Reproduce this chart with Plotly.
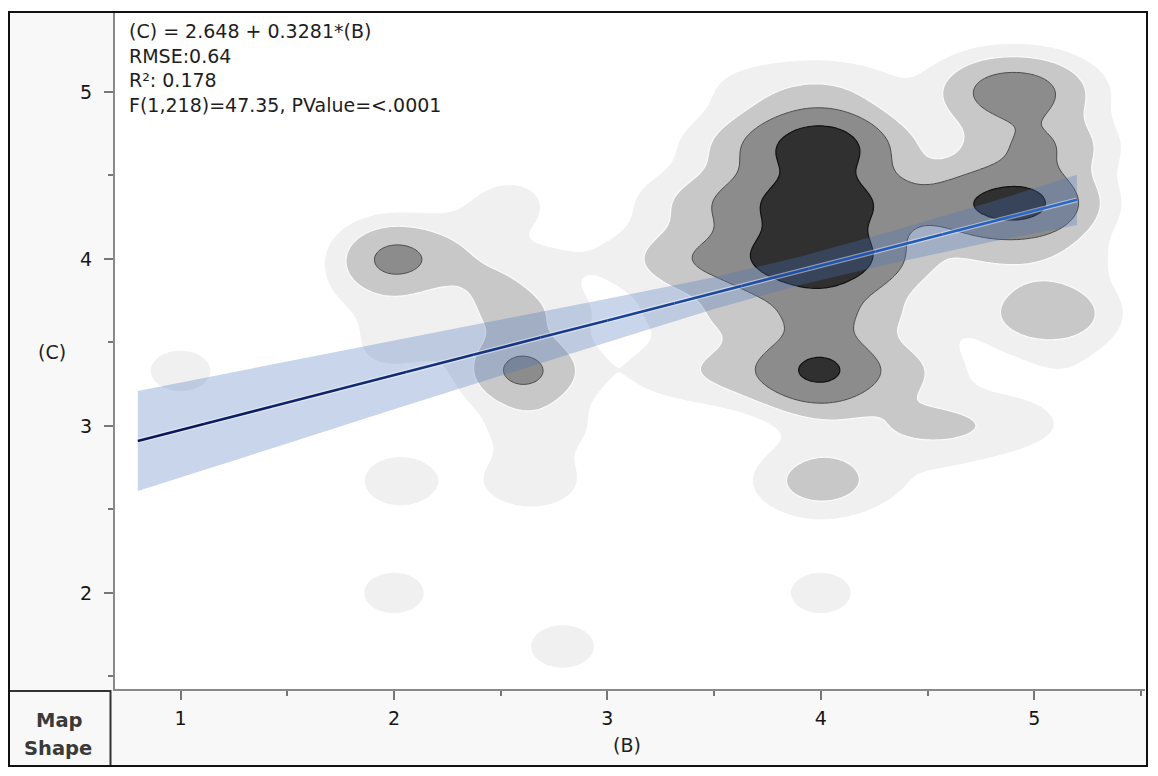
import numpy as np
import plotly.graph_objects as go

# ---------------- data ----------------
# weighted observations (B, C, weight) used for the density contours
obs_B = [
    # C = 5.0 row
    3.6, 3.8, 4.0, 4.2, 4.4, 4.6, 4.8, 5.0, 5.2,
    # C = 4.67
    3.4, 3.6, 3.8, 4.0, 4.2, 4.4, 4.6, 4.8, 5.0, 5.2,
    # C = 4.5
    3.8, 4.2,
    # C = 4.33
    3.2, 3.4, 3.6, 3.8, 4.0, 4.2, 4.4, 4.6, 4.8, 5.0, 5.2,
    # C = 4.17
    3.8, 4.2,
    # C = 4.0
    3.0, 3.2, 3.4, 3.6, 3.8, 4.0, 4.2, 4.4, 4.6, 4.8, 5.0, 5.2,
    # C = 3.67
    3.2, 3.4, 3.6, 3.8, 4.0, 4.2, 4.4, 4.6, 4.97, 5.17,
    # C = 3.33
    3.2, 3.4, 3.6, 3.8, 4.0, 4.2, 4.4, 4.6, 5.0, 5.2,
    # C = 3.0
    3.8, 4.0, 4.2, 4.4, 4.6, 4.8, 5.0, 5.2,
    # C = 2.67
    3.8, 4.0, 4.2, 4.4, 4.6,
    # C = 2.0
    4.0,
    # left cluster
    2.0, 2.25, 2.45, 2.6, 2.55,
    2.55, 2.35, 2.75, 2.8, 2.85, 2.8, 2.6, 2.55, 2.72, 2.0, 1.95, 2.2, 1.8,
    1.0, 2.03, 2.0, 2.79,
]
obs_C = [
    5.0, 5.0, 5.0, 5.0, 5.0, 5.0, 5.0, 5.0, 5.0,
    4.67, 4.67, 4.67, 4.67, 4.67, 4.67, 4.67, 4.67, 4.67, 4.67,
    4.5, 4.5,
    4.33, 4.33, 4.33, 4.33, 4.33, 4.33, 4.33, 4.33, 4.33, 4.33, 4.33,
    4.17, 4.17,
    4.0, 4.0, 4.0, 4.0, 4.0, 4.0, 4.0, 4.0, 4.0, 4.0, 4.0, 4.0,
    3.67, 3.67, 3.67, 3.67, 3.67, 3.67, 3.67, 3.67, 3.67, 3.67,
    3.33, 3.33, 3.33, 3.33, 3.33, 3.33, 3.33, 3.33, 3.33, 3.33,
    3.0, 3.0, 3.0, 3.0, 3.0, 3.0, 3.0, 3.0,
    2.67, 2.67, 2.67, 2.67, 2.67,
    2.0,
    4.0, 4.0, 3.87, 3.33, 3.67,
    4.33, 4.2, 4.0, 3.67, 3.33, 3.0, 3.0, 2.67, 2.67, 3.67, 3.45, 3.5, 3.8,
    3.33, 2.67, 2.0, 1.68,
]
obs_W = [
    0.55, 0.85, 1.2, 0.7, 0.2, 0.3, 4.6, 4.6, 0.6,
    0.3, 1.4, 4.5, 15.0, 3.5, 0.4, 0.5, 1.0, 4.2, 1.3,
    1.2, 1.0,
    0.35, 1.3, 3.5, 5.5, 15.0, 4.5, 3.0, 3.0, 9.0, 9.5, 1.0,
    1.8, 1.5,
    0.3, 0.8, 3.0, 3.0, 9.0, 16.0, 6.0, 1.0, 0.6, 1.0, 0.7, 0.8,
    0.35, 0.5, 1.6, 1.2, 5.0, 1.2, 0.8, 0.4, 2.3, 2.3,
    0.5, 0.9, 1.4, 2.8, 11.5, 2.0, 1.5, 0.3, 0.25, 0.35,
    0.1, 0.6, 0.5, 1.3, 1.4, 0.9, 0.4, 0.2,
    0.5, 2.6, 0.6, 0.2, 0.2,
    1.0,
    5.8, 1.2, 1.45, 5.7, 2.2,
    0.9, 0.4, 0.5, 0.6, 0.5, 0.6, 0.9, 0.7, 0.8, 0.6, 0.6, 0.5, 0.3,
    1.0, 1.2, 1.0, 1.05,
]

# density contour levels and fills
level_values = [0.65, 2.0, 5.0, 12.0]
level_fills = ["#f0f0f0", "#c8c8c8", "#8c8c8c", "#303030"]
level_lines = ["rgba(0,0,0,0)", "#fafafa", "#4a4a4a", "#111111"]
level_widths = [0, 1.2, 1.0, 1.2]

# regression fit (from the chart text)
fit_a = 2.648
fit_b = 0.3281
fit_x_range = [0.8, 5.2]

# confidence band
band_x = [0.8, 1.5, 2.0, 2.5, 3.0, 3.5, 3.9, 4.3, 4.8, 5.2]
band_up = [3.21, 3.385, 3.51, 3.633, 3.762, 3.891, 4.013, 4.154, 4.343, 4.504]
band_lo = [2.61, 2.895, 3.10, 3.303, 3.502, 3.701, 3.843, 3.964, 4.103, 4.204]

stats_lines = [
    "(C) = 2.648 + 0.3281*(B)",
    "RMSE:0.64",
    "R\u00b2: 0.178",
    "F(1,218)=47.35, PValue=<.0001",
]

x_ticks = [1, 2, 3, 4, 5]
x_minor = [1.5, 2.5, 3.5, 4.5, 5.5]
y_ticks = [2, 3, 4, 5]
y_minor = [1.5, 2.5, 3.5, 4.5]

X_RANGE = [0.693, 5.519]
Y_RANGE = [1.425, 5.479]

# ---------------- density (weighted Gaussian KDE) ----------------
SX, SY = 0.15, 0.13
gx = np.arange(X_RANGE[0], X_RANGE[1] + 0.012, 0.012)
gy = np.arange(Y_RANGE[0], Y_RANGE[1] + 0.012, 0.012)
GX, GY = np.meshgrid(gx, gy)
D = np.zeros_like(GX)
for b, c, w in zip(obs_B, obs_C, obs_W):
    D += w * np.exp(-((GX - b) ** 2) / (2 * SX ** 2) - ((GY - c) ** 2) / (2 * SY ** 2))
Dz = np.round(D, 3)

fig = go.Figure()
for val, fc, lc, lw in zip(level_values, level_fills, level_lines, level_widths):
    # plotly shades the region that violates the constraint, i.e. D >= val
    fig.add_trace(go.Contour(
        x=np.round(gx, 4), y=np.round(gy, 4), z=Dz,
        contours=dict(type="constraint", operation="<", value=val),
        fillcolor=fc,
        line=dict(color=lc, width=lw, smoothing=1),
        showscale=False, hoverinfo="skip", showlegend=False,
    ))

# confidence band
fig.add_trace(go.Scatter(
    x=band_x + band_x[::-1], y=band_up + band_lo[::-1],
    fill="toself", fillcolor="rgba(75,115,185,0.30)",
    line=dict(width=0), mode="lines", hoverinfo="skip", showlegend=False,
))

# regression line: light halo + gradient segments
lx = np.linspace(fit_x_range[0], fit_x_range[1], 15)
ly = fit_a + fit_b * lx
fig.add_trace(go.Scatter(x=lx, y=ly, mode="lines",
                         line=dict(color="rgba(255,255,255,0.45)", width=5),
                         hoverinfo="skip", showlegend=False))
c0 = np.array([10, 24, 90])
c1 = np.array([38, 104, 204])
nseg = len(lx) - 1
for i in range(nseg):
    t = i / (nseg - 1)
    col = c0 + (c1 - c0) * t
    fig.add_trace(go.Scatter(
        x=lx[i:i + 2], y=ly[i:i + 2], mode="lines",
        line=dict(color="rgb(%d,%d,%d)" % tuple(col.astype(int)), width=2.6),
        hoverinfo="skip", showlegend=False,
    ))

# ---------------- layout ----------------
# page coordinates (the page body adds an 8px offset)
OFF = 8
PAGE_W, PAGE_H = 1158, 776
P_L, P_T, P_R, P_B = 115, 12, 1145, 689
W, H = PAGE_W - OFF, PAGE_H - OFF
L, T = P_L - OFF, P_T - OFF
R, B = W - (P_R - OFF), H - (P_B - OFF)
PW, PH = P_R - P_L, P_B - P_T


def px2x(px):
    return (px - P_L) / PW


def py2y(py):
    return (P_B - py) / PH


font_fam = "DejaVu Sans, Open Sans, sans-serif"

shapes = [
    # light grey label strips
    dict(type="rect", xref="paper", yref="paper", x0=px2x(9), x1=px2x(115), y0=py2y(689), y1=py2y(12),
         fillcolor="#f8f8f8", line=dict(width=0), layer="below"),
    dict(type="rect", xref="paper", yref="paper", x0=px2x(9), x1=px2x(1147), y0=py2y(766), y1=py2y(689),
         fillcolor="#f8f8f8", line=dict(width=0), layer="below"),
    # map shape box
    dict(type="rect", xref="paper", yref="paper", x0=px2x(9), x1=px2x(110.5), y0=py2y(766), y1=py2y(691),
         fillcolor="rgba(0,0,0,0)", line=dict(color="#333333", width=2)),
    # outer frame
    dict(type="rect", xref="paper", yref="paper", x0=px2x(9), x1=px2x(1147), y0=py2y(766), y1=py2y(12),
         fillcolor="rgba(0,0,0,0)", line=dict(color="#111111", width=2)),
]

annotations = [
    dict(text="<br>".join(stats_lines), xref="paper", yref="paper", x=px2x(127), y=py2y(18),
         xanchor="left", yanchor="top", align="left", showarrow=False,
         font=dict(family=font_fam, size=19, color="#1e1e1e")),
    dict(text="(C)", xref="paper", yref="paper", x=px2x(52), y=py2y(352), xanchor="center", yanchor="middle",
         showarrow=False, font=dict(family=font_fam, size=19, color="#1e1e1e")),
    dict(text="(B)", xref="paper", yref="paper", x=px2x(627), y=py2y(745), xanchor="center", yanchor="middle",
         showarrow=False, font=dict(family=font_fam, size=19, color="#1e1e1e")),
    dict(text="<b>Map</b>", xref="paper", yref="paper", x=px2x(59), y=py2y(720), xanchor="center", yanchor="middle",
         showarrow=False, font=dict(family=font_fam, size=19.5, color="#3a3a3a")),
    dict(text="<b>Shape</b>", xref="paper", yref="paper", x=px2x(58), y=py2y(748), xanchor="center", yanchor="middle",
         showarrow=False, font=dict(family=font_fam, size=19.5, color="#3a3a3a")),
]

axis_common = dict(
    showgrid=False, zeroline=False, showline=True, linecolor="#8a8a8a", linewidth=2,
    ticks="outside", ticklen=9, tickwidth=2, tickcolor="#777777",
    tickfont=dict(family=font_fam, size=19, color="#151515"),
)

fig.update_layout(
    width=W, height=H,
    margin=dict(l=L, r=R, t=T, b=B),
    paper_bgcolor="white", plot_bgcolor="white",
    xaxis=dict(range=X_RANGE, tickmode="array", tickvals=x_ticks, ticktext=[str(v) for v in x_ticks],
               minor=dict(tickmode="array", tickvals=x_minor, ticks="outside", ticklen=5,
                          tickwidth=1.5, tickcolor="#777777"),
               ticklabelstandoff=2, **axis_common),
    yaxis=dict(range=Y_RANGE, tickmode="array", tickvals=y_ticks, ticktext=[str(v) for v in y_ticks],
               minor=dict(tickmode="array", tickvals=y_minor, ticks="outside", ticklen=5,
                          tickwidth=1.5, tickcolor="#777777"),
               ticklabelstandoff=8, **axis_common),
    shapes=shapes, annotations=annotations,
    showlegend=False,
)

fig.write_html("out.html")
